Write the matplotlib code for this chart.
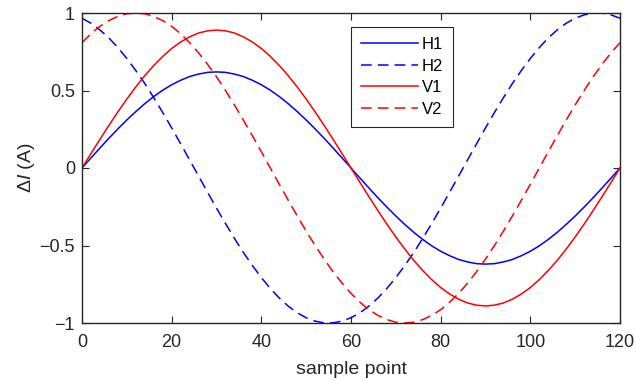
import numpy as np
import matplotlib
matplotlib.use('Agg')
import matplotlib.pyplot as plt

plt.rcParams['font.family'] = ['Liberation Sans', 'DejaVu Sans']
plt.rcParams['mathtext.fontset'] = 'custom'
plt.rcParams['mathtext.rm'] = 'Liberation Sans'
plt.rcParams['mathtext.it'] = 'Liberation Sans:italic'

# sample points every 2 samples
x = list(range(0, 121, 2))

H1 = [0, 0.065, 0.129, 0.192, 0.252, 0.310, 0.364, 0.415, 0.461, 0.502, 0.537,
      0.566, 0.590, 0.606, 0.617, 0.620, 0.617, 0.606, 0.590, 0.566, 0.537,
      0.502, 0.461, 0.415, 0.364, 0.310, 0.252, 0.192, 0.129, 0.065, 0,
      -0.065, -0.129, -0.192, -0.252, -0.310, -0.364, -0.415, -0.461, -0.502,
      -0.537, -0.566, -0.590, -0.606, -0.617, -0.620, -0.617, -0.606, -0.590,
      -0.566, -0.537, -0.502, -0.461, -0.415, -0.364, -0.310, -0.252, -0.192,
      -0.129, -0.065, 0]
H2 = [0.966, 0.934, 0.891, 0.839, 0.777, 0.707, 0.629, 0.545, 0.454, 0.358,
      0.259, 0.156, 0.052, -0.052, -0.156, -0.259, -0.358, -0.454, -0.545,
      -0.629, -0.707, -0.777, -0.839, -0.891, -0.934, -0.966, -0.988, -0.999,
      -0.999, -0.988, -0.966, -0.934, -0.891, -0.839, -0.777, -0.707, -0.629,
      -0.545, -0.454, -0.358, -0.259, -0.156, -0.052, 0.052, 0.156, 0.259,
      0.358, 0.454, 0.545, 0.629, 0.707, 0.777, 0.839, 0.891, 0.934, 0.966,
      0.988, 0.999, 0.999, 0.988, 0.966]
V1 = [0, 0.093, 0.185, 0.275, 0.362, 0.445, 0.523, 0.596, 0.661, 0.720, 0.771,
      0.813, 0.846, 0.871, 0.885, 0.890, 0.885, 0.871, 0.846, 0.813, 0.771,
      0.720, 0.661, 0.596, 0.523, 0.445, 0.362, 0.275, 0.185, 0.093, 0,
      -0.093, -0.185, -0.275, -0.362, -0.445, -0.523, -0.596, -0.661, -0.720,
      -0.771, -0.813, -0.846, -0.871, -0.885, -0.890, -0.885, -0.871, -0.846,
      -0.813, -0.771, -0.720, -0.661, -0.596, -0.523, -0.445, -0.362, -0.275,
      -0.185, -0.093, 0]
V2 = [0.809, 0.866, 0.914, 0.951, 0.978, 0.995, 1.0, 0.995, 0.978, 0.951,
      0.914, 0.866, 0.809, 0.743, 0.669, 0.588, 0.5, 0.407, 0.309, 0.208,
      0.105, 0, -0.105, -0.208, -0.309, -0.407, -0.5, -0.588, -0.669, -0.743,
      -0.809, -0.866, -0.914, -0.951, -0.978, -0.995, -1.0, -0.995, -0.978,
      -0.951, -0.914, -0.866, -0.809, -0.743, -0.669, -0.588, -0.5, -0.407,
      -0.309, -0.208, -0.105, 0, 0.105, 0.208, 0.309, 0.407, 0.5, 0.588,
      0.669, 0.743, 0.809]

xticks = [0, 20, 40, 60, 80, 100, 120]
yticks = [-1, -0.5, 0, 0.5, 1]
ylabels = ['\u22121', '\u22120.5', '0', '0.5', '1']

fig = plt.figure(figsize=(6.36, 3.81), dpi=100)
ax = fig.add_axes([82/636, 1-323/381, 538/636, 310/381])

dash = (7, 4)
ax.plot(x, H1, color='#0000ff', lw=1.1, label='H1')
ax.plot(x, H2, color='#0000ff', lw=1.1, dashes=dash, label='H2')
ax.plot(x, V1, color='#ff0000', lw=1.1, label='V1')
ax.plot(x, V2, color='#ff0000', lw=1.1, dashes=dash, label='V2')

ax.set_xlim(0, 120)
ax.set_ylim(-1, 1)
ax.set_xticks(xticks)
ax.set_yticks(yticks)
ax.set_yticklabels(ylabels)
ax.tick_params(direction='in', top=True, right=True, length=5, width=0.8,
               labelsize=13, color='#262626', labelcolor='#262626')
ax.tick_params(axis='x', pad=8)
ax.tick_params(axis='y', pad=5)
for s in ax.spines.values():
    s.set_color('#262626')
    s.set_linewidth(1.0)

ax.set_xlabel('sample point', fontsize=14, color='#262626', labelpad=7)
ax.set_ylabel(r'$\Delta\mathit{I}$ (A)', fontsize=14, color='#262626', labelpad=2)

leg = ax.legend(loc='upper left', bbox_to_anchor=((351-82)/538, (323-27)/310),
                fontsize=12, handlelength=3.4, labelspacing=0.4,
                fancybox=False, framealpha=1, edgecolor='#262626',
                borderpad=0.6, handletextpad=0.25, borderaxespad=0)
leg.get_frame().set_linewidth(0.8)

fig.savefig('out.png', dpi=100)
